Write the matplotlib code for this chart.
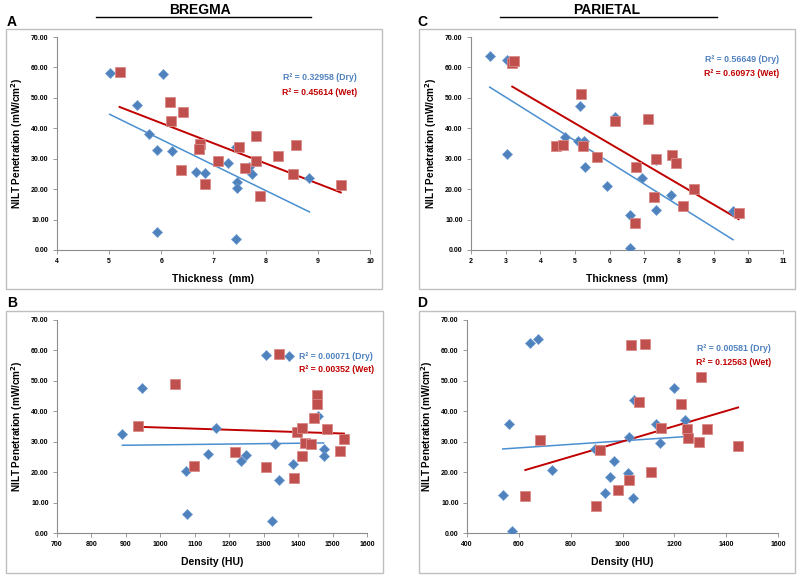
import numpy as np
import matplotlib
matplotlib.use("Agg")
from matplotlib import pyplot as plt
from matplotlib.patches import Rectangle
from matplotlib.ticker import FormatStrFormatter

# A - Bregma thickness
a_dry_x = [5.01, 6.03, 5.53, 5.77, 5.92, 6.21, 5.92, 6.66, 6.83, 7.27, 7.43, 7.45, 7.45, 7.43, 7.69, 7.73, 7.90, 8.84]
a_dry_y = [58.3, 58.0, 47.5, 38.2, 32.9, 32.5, 5.9, 25.7, 25.4, 28.7, 34.0, 22.5, 20.4, 3.6, 27.4, 25.0, 17.6, 23.5]
a_wet_x = [5.20, 6.16, 6.41, 6.19, 6.74, 6.73, 6.37, 6.83, 7.08, 7.48, 7.60, 7.81, 7.82, 7.89, 8.24, 8.59, 8.53, 9.44]
a_wet_y = [58.6, 48.6, 45.2, 42.5, 35.0, 33.1, 26.3, 21.7, 29.2, 34.0, 26.8, 37.6, 29.4, 17.9, 30.9, 34.4, 25.0, 21.3]

# C - Parietal thickness
c_dry_x = [2.54, 3.04, 3.04, 4.72, 5.08, 5.25, 5.15, 5.30, 5.92, 6.14, 6.60, 6.60, 6.94, 7.34, 7.34, 7.78, 9.56]
c_dry_y = [63.8, 62.5, 31.6, 37.2, 35.8, 35.8, 47.4, 27.4, 20.9, 43.6, 11.6, 0.7, 23.8, 13.2, 29.6, 18.2, 12.7]
c_wet_x = [3.19, 3.24, 5.16, 6.16, 7.12, 4.44, 4.64, 5.23, 5.64, 6.77, 7.34, 7.79, 7.90, 7.29, 8.42, 8.12, 6.72, 9.72]
c_wet_y = [61.6, 62.0, 51.3, 42.5, 42.9, 34.3, 34.4, 34.1, 30.6, 27.4, 29.8, 31.2, 28.5, 17.4, 20.1, 14.3, 8.8, 12.0]

# B - Bregma density
b_dry_x = [890, 946, 1074, 1076, 1138, 1161, 1234, 1248, 1306, 1333, 1344, 1323, 1374, 1386, 1458, 1474, 1474]
b_dry_y = [32.6, 47.8, 20.5, 6.3, 26.1, 34.6, 23.5, 25.6, 58.4, 29.2, 17.5, 3.8, 58.3, 22.7, 38.4, 27.6, 25.2]
b_wet_x = [936, 1042, 1097, 1218, 1308, 1345, 1388, 1396, 1411, 1411, 1421, 1437, 1445, 1454, 1454, 1484, 1521, 1533]
b_wet_y = [35.1, 48.9, 21.9, 26.6, 21.6, 58.8, 18.0, 33.2, 34.5, 25.3, 29.6, 29.4, 37.7, 45.4, 42.5, 34.2, 26.8, 31.0]

# D - Parietal density
d_dry_x = [538, 563, 575, 644, 673, 728, 893, 934, 952, 969, 1025, 1022, 1039, 1043, 1131, 1145, 1199, 1242]
d_dry_y = [12.6, 35.7, 0.7, 62.5, 63.8, 20.8, 27.6, 13.2, 18.4, 23.8, 31.5, 19.8, 11.4, 43.6, 35.7, 29.5, 47.5, 37.3]
d_wet_x = [625, 683, 899, 912, 983, 1034, 1088, 1064, 1024, 1111, 1150, 1227, 1249, 1254, 1294, 1304, 1326, 1446]
d_wet_y = [12.0, 30.7, 8.8, 27.3, 14.2, 61.9, 62.1, 43.0, 17.3, 20.2, 34.6, 42.4, 34.2, 31.1, 29.8, 51.2, 34.2, 28.5]

r2_text = {
    "A": ("R\u00b2 = 0.32958 (Dry)", "R\u00b2 = 0.45614 (Wet)"),
    "B": ("R\u00b2 = 0.00071 (Dry)", "R\u00b2 = 0.00352 (Wet)"),
    "C": ("R\u00b2 = 0.56649 (Dry)", "R\u00b2 = 0.60973 (Wet)"),
    "D": ("R\u00b2 = 0.00581 (Dry)", "R\u00b2 = 0.12563 (Wet)"),
}

W, H = 800, 576
fig = plt.figure(figsize=(8, 5.76), dpi=100)
plt.rcParams['font.family'] = ['Liberation Sans', 'DejaVu Sans']

BLUE = '#4F81BD'
RED = '#C0504D'
BLUE_LINE = '#4A8FD0'
RED_LINE = '#C00000'


def px_axes(x0, x1, ytop, ybot):
    return fig.add_axes([x0 / W, (H - ybot) / H, (x1 - x0) / W, (ybot - ytop) / H])


def frame(x0, y0, x1, y1):
    fig.patches.append(Rectangle((x0 / W, (H - y1) / H), (x1 - x0) / W, (y1 - y0) / H,
                                 transform=fig.transFigure, fill=False,
                                 edgecolor='#BFBFBF', lw=1.0))


def panel(ax, dx, dy, wx, wy, xlim, xticks, xlabel, key, tpos):
    ax.scatter(dx, dy, marker='D', s=26, color=BLUE, edgecolor='#6E9BD0', lw=0.5, zorder=3)
    ax.scatter(wx, wy, marker='s', s=48, color=RED, edgecolor='#D98A88', lw=0.6, zorder=4)
    # linear trendlines over each series' range
    for xs, ys, c in ((dx, dy, BLUE_LINE), (wx, wy, RED_LINE)):
        k, b = np.polyfit(xs, ys, 1)
        xx = np.array([min(xs), max(xs)])
        ax.plot(xx, k * xx + b, color=c, lw=1.4 if c == RED_LINE else 1.1, zorder=2)
    ax.set_xlim(*xlim)
    ax.set_ylim(0, 70)
    ax.set_xticks(xticks)
    ax.set_yticks(np.arange(0, 71, 10))
    ax.yaxis.set_major_formatter(FormatStrFormatter('%.2f'))
    for s in ('top', 'right'):
        ax.spines[s].set_visible(False)
    for s in ('left', 'bottom'):
        ax.spines[s].set_color('#8C8C8C')
        ax.spines[s].set_linewidth(0.8)
    ax.tick_params(axis='both', labelsize=5, length=3, width=0.6, color='#8C8C8C', pad=3)
    for t in ax.get_xticklabels() + ax.get_yticklabels():
        t.set_fontweight('bold')
    ax.set_xlabel(xlabel, fontsize=7.5, fontweight='bold', labelpad=6)
    ax.set_ylabel('NILT Penetration (mW/cm$^\\mathbf{2}$)', fontsize=7.2, fontweight='bold', labelpad=4)
    tx, ty1, ty2 = tpos
    ax.text(tx, ty1, r2_text[key][0], color=BLUE, fontsize=6.3, fontweight='bold', ha='center', va='center')
    ax.text(tx, ty2, r2_text[key][1], color=RED_LINE, fontsize=6.3, fontweight='bold', ha='center', va='center')
    ax.patch.set_alpha(0)


frame(6, 29, 382, 289)
frame(419, 29, 795, 289)
frame(6, 311, 383, 573)
frame(419, 311, 795, 573)

axA = px_axes(57, 370, 37, 250)
panel(axA, a_dry_x, a_dry_y, a_wet_x, a_wet_y, (4, 10), range(4, 11), 'Thickness  (mm)', 'A', (9.04, 56.6, 51.9))
axC = px_axes(471, 783, 37, 250)
panel(axC, c_dry_x, c_dry_y, c_wet_x, c_wet_y, (2, 11), range(2, 12), 'Thickness  (mm)', 'C', (9.82, 62.6, 58.0))
axB = px_axes(57, 367, 320, 533)
panel(axB, b_dry_x, b_dry_y, b_wet_x, b_wet_y, (700, 1600), range(700, 1601, 100), 'Density (HU)', 'B', (1511, 58.0, 53.6))
axD = px_axes(467, 778, 320, 533)
panel(axD, d_dry_x, d_dry_y, d_wet_x, d_wet_y, (400, 1600), range(400, 1601, 200), 'Density (HU)', 'D', (1429, 60.5, 56.1))

for letter, x, y in (('A', 7, 22), ('C', 417, 22), ('B', 7, 303), ('D', 417, 303)):
    fig.text(x / W, 1 - y / H, letter, fontsize=10, fontweight='bold', va='center', ha='left')

for name, cx, x0, x1 in (('BREGMA', 200, 96, 311), ('PARIETAL', 607, 500, 717)):
    fig.text(cx / W, 1 - 9.5 / H, name, fontsize=10, fontweight='bold', ha='center', va='center')
    fig.add_artist(plt.Line2D([x0 / W, x1 / W], [1 - 17 / H, 1 - 17 / H], color='black', lw=1.0))

fig.savefig('out.png', dpi=100)
